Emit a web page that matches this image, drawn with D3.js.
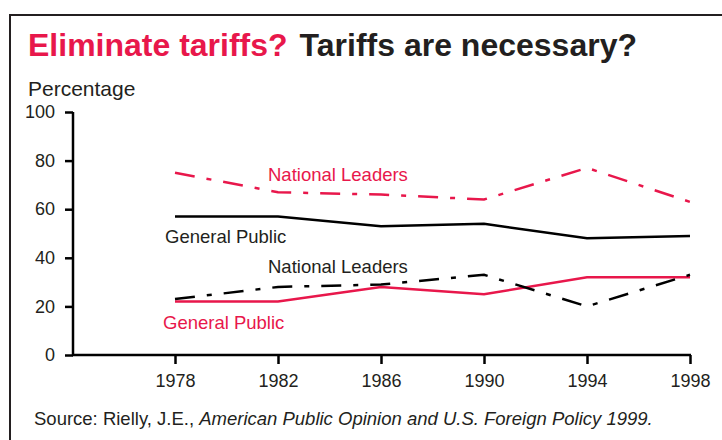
<!DOCTYPE html>
<html>
<head>
<meta charset="utf-8">
<script src="https://cdn.jsdelivr.net/npm/d3@7"></script>
<style>
  body { margin: 0; background: #fff; }
  text { font-family: "Liberation Sans", Arial, sans-serif; }
</style>
</head>
<body>
<div id="chart"></div>
<script>
// data
var years = [1978, 1982, 1986, 1990, 1994, 1998];
var leadersEliminate = [75, 67, 66, 64, 77, 63];
var publicEliminate = [22, 22, 28, 25, 32, 32];
var leadersNecessary = [23, 28, 29, 33, 20, 33];
var publicNecessary = [57, 57, 53, 54, 48, 49];
var yTicks = [0, 20, 40, 60, 80, 100];

var red = "#e8174b", ink = "#231f20";
var W = 722, H = 440;

var svg = d3.select("#chart").append("svg")
    .attr("width", W).attr("height", H);

// frame
svg.append("rect")
    .attr("x", 10).attr("y", 15)
    .attr("width", 730).attr("height", 440)
    .attr("fill", "none").attr("stroke", ink).attr("stroke-width", 2);

// title
var title = svg.append("text").attr("x", 28).attr("y", 56)
    .style("font-size", "32px").style("font-weight", "bold");
title.append("tspan").attr("fill", red).text("Eliminate tariffs?");
title.append("tspan").attr("fill", ink).attr("dx", 12).text("Tariffs are necessary?");

svg.append("text").attr("x", 28).attr("y", 96)
    .attr("fill", ink).style("font-size", "21px").text("Percentage");

var x = d3.scaleLinear().domain([1978, 1998]).range([175, 690]);
var y = d3.scaleLinear().domain([0, 100]).range([355, 112]);

// y axis
var ya = svg.append("g").attr("transform", "translate(73,0)")
    .call(d3.axisLeft(y).tickValues(yTicks).tickSize(8).tickPadding(10));
ya.select(".domain").attr("stroke", "#000").attr("stroke-width", 2.5)
    .attr("d", "M0," + y(0) + "V" + y(100));
ya.selectAll(".tick line").attr("stroke", "#000").attr("stroke-width", 2.5);
ya.selectAll(".tick text").attr("fill", ink).style("font-size", "18px")
    .style("font-family", "Liberation Sans, Arial, sans-serif");

// x axis
var xa = svg.append("g").attr("transform", "translate(0," + y(0) + ")")
    .call(d3.axisBottom(x).tickValues(years).tickFormat(d3.format("d"))
      .tickSize(9).tickPadding(10));
xa.select(".domain").attr("stroke", "#000").attr("stroke-width", 2.5)
    .attr("d", "M72,0H691");
xa.selectAll(".tick line").attr("stroke", "#000").attr("stroke-width", 2.5);
xa.selectAll(".tick text").attr("fill", ink).style("font-size", "18px")
    .style("font-family", "Liberation Sans, Arial, sans-serif");

var line = d3.line()
    .x(function(d, i) { return x(years[i]); })
    .y(function(d) { return y(d); });

function drawSeries(vals, color, dashed) {
  svg.append("path")
      .datum(vals)
      .attr("d", line)
      .attr("fill", "none")
      .attr("stroke", color)
      .attr("stroke-width", 2.5)
      .attr("stroke-dasharray", dashed ? "20,12,5,12" : null);
}

drawSeries(leadersEliminate, red, true);
drawSeries(publicEliminate, red, false);
drawSeries(leadersNecessary, "#000", true);
drawSeries(publicNecessary, "#000", false);

// series labels
var labels = [
  {t: "National Leaders", x: 268, y: 181, c: red},
  {t: "General Public", x: 165, y: 243, c: ink},
  {t: "National Leaders", x: 268, y: 273, c: ink},
  {t: "General Public", x: 163, y: 329, c: red}
];
svg.selectAll(".lbl").data(labels).enter().append("text")
    .attr("x", function(d) { return d.x; })
    .attr("y", function(d) { return d.y; })
    .attr("fill", function(d) { return d.c; })
    .style("font-size", "18.5px")
    .text(function(d) { return d.t; });

// source
var src = svg.append("text").attr("x", 34).attr("y", 425)
    .attr("fill", ink).style("font-size", "18.5px");
src.append("tspan").text("Source:  Rielly, J.E., ");
src.append("tspan").style("font-style", "italic")
    .text("American Public Opinion and U.S. Foreign Policy 1999.");
</script>
</body>
</html>
